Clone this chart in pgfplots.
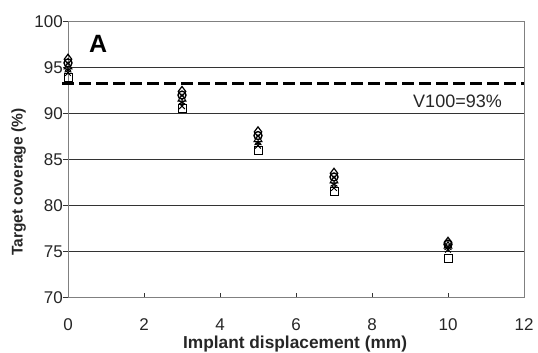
\documentclass[border=0pt]{standalone}
\usepackage{fontspec}
\setmainfont{Liberation Sans}
\usepackage{pgfplots}
\pgfplotsset{compat=1.18}
\begin{document}
\begin{tikzpicture}
\useasboundingbox (-68pt,-55.5pt) rectangle (470pt,297.5pt);
\begin{axis}[
  scale only axis, width=456pt, height=276pt,
  at={(0,0)}, anchor=south west,
  xmin=0, xmax=12, ymin=70, ymax=100,
  xtick={0,2,...,12}, ytick={70,75,...,100},
  ymajorgrids, grid style={black!80, line width=0.8pt},
  axis line style={black!50, line width=0.8pt},
  tick pos=left, tick align=outside, major tick length=5pt,
  tick style={black!80, line width=0.8pt},
  xtick style={yshift=5pt},
  /pgf/number format/assume math mode=true,
  ticklabel style={font=\fontsize{17}{19}\selectfont, text=black!85, inner sep=0pt},
  xticklabel style={anchor=base, yshift=-28pt},
  yticklabel style={anchor=east},
  xlabel={Implant displacement (mm)},
  ylabel={Target coverage (\%)},
  xlabel style={font=\fontsize{17.3}{20}\selectfont\bfseries, text=black!85, at={(axis description cs:0.498,0)}, anchor=base, yshift=-50.5pt, inner sep=0pt},
  ylabel style={font=\fontsize{15.5}{18}\selectfont\bfseries, text=black!85, at={(axis description cs:-0.108,0.418)}, anchor=center, rotate=0, inner sep=0pt},
  clip=false,
]
\addplot[black, line width=3pt, dash pattern=on 12pt off 5pt] coordinates {(-0.15,93.3) (12,93.3)};
\addplot[only marks, mark=diamond, mark size=5pt, mark options={fill=white, line width=1.2pt, black}] coordinates {(0,95.9)(3,92.4)(5,88.0)(7,83.5)(10,76.0)};
\addplot[only marks, mark=o, mark size=4pt, mark options={fill=white, line width=1.4pt, black}] coordinates {(0,95.5)(3,92.0)(5,87.6)(7,83.1)(10,75.8)};
\addplot[only marks, mark=triangle, mark size=4.5pt, mark options={fill=white, line width=1pt, black}] coordinates {(0,95.1)(3,91.6)(5,87.2)(7,82.7)(10,75.6)};
\addplot[only marks, mark=asterisk, mark size=4pt, mark options={line width=1pt, black}] coordinates {(0,94.7)(3,91.2)(5,86.8)(7,82.3)(10,75.4)};
\addplot[only marks, mark=x, mark size=4pt, mark options={line width=1pt, black}] coordinates {(0,94.4)(3,90.8)(5,86.5)(7,81.9)(10,75.2)};
\addplot[only marks, mark=square, mark size=4pt, mark options={fill=white, line width=0.8pt, black}] coordinates {(0,93.9)(3,90.6)(5,86.0)(7,81.5)(10,74.3)};
\node[anchor=base west, inner sep=0pt, font=\fontsize{25}{28}\selectfont\bfseries] at (axis cs:0.55,96.58) {A};
\node[anchor=base west, inner sep=0pt, font=\fontsize{18}{20}\selectfont, text=black!85] at (axis cs:9.08,90.7) {V100=93\%};
\end{axis}
\end{tikzpicture}
\end{document}
